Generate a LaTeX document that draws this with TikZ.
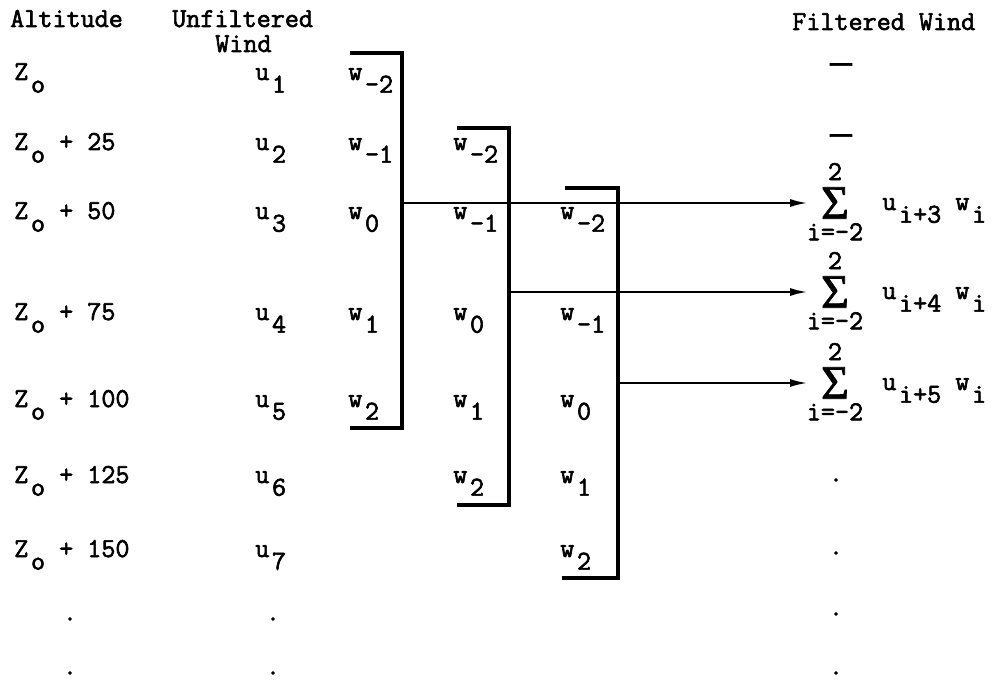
\documentclass[tikz,border=0pt]{standalone}
\usepackage{fontspec}
\setmainfont{Latin Modern Mono}[FakeBold=2.2]
\newfontfamily\sigmafont{Liberation Serif}[FakeBold=1.5]
\usepackage{tikz}
\usetikzlibrary{positioning,arrows.meta}

% lowered (typewriter) subscript
\newcommand\lo[1]{\kern2pt\raisebox{-9.5pt}{#1}}

\begin{document}
\begin{tikzpicture}[x=0.75pt, y=-0.75pt,
    txt/.style={anchor=base west, inner sep=0pt, font=\fontsize{20.5}{22}\selectfont},
    dotmark/.style={inner sep=0pt, font=\fontsize{20.5}{22}\selectfont},
    lim/.style={inner sep=0pt, font=\fontsize{20.5}{22}\selectfont},
    dashmark/.style={inner sep=0pt, font=\sigmafont\fontsize{32}{32}\selectfont},
    sig/.style={inner xsep=10pt, inner ysep=0pt,
                font=\sigmafont\fontsize{36}{36}\selectfont},
    brk/.style={line width=2.3pt},
    flow/.style={-{Latex[length=13pt, width=6pt]}, line width=1.6pt}
]
\useasboundingbox (0,0) rectangle (1002,681);

% --- column headings ---
\node[txt] (alt)   at (10,27)  {Altitude};
\node[txt] (unf)   at (172,27) {Unfiltered};
\node[txt] (unfw)  at (215,52) {Wind};
\node[txt] (filt)  at (792,30) {Filtered Wind};

% --- altitudes ---
\node[txt] (z1) at (14,80)  {Z\lo{o}};
\node[txt] (z2) at (14,150) {Z\lo{o} + 25};
\node[txt] (z3) at (14,219) {Z\lo{o} + 50};
\node[txt] (z4) at (14,320) {Z\lo{o} + 75};
\node[txt] (z5) at (14,407) {Z\lo{o} + 100};
\node[txt] (z6) at (14,483) {Z\lo{o} + 125};
\node[txt] (z7) at (14,557) {Z\lo{o} + 150};
\node[dotmark] (zd1) at (70,619) {.};
\node[dotmark] (zd2) at (70,673) {.};

% --- unfiltered wind ---
\node[txt] (u1) at (255,80)  {u\lo{1}};
\node[txt] (u2) at (255,150) {u\lo{2}};
\node[txt] (u3) at (255,219) {u\lo{3}};
\node[txt] (u4) at (255,320) {u\lo{4}};
\node[txt] (u5) at (255,407) {u\lo{5}};
\node[txt] (u6) at (255,483) {u\lo{6}};
\node[txt] (u7) at (255,557) {u\lo{7}};
\node[dotmark] (ud1) at (273,619) {.};
\node[dotmark] (ud2) at (273,673) {.};

% --- weights, first window ---
\node[txt] (wa1) at (348,80)  {w\lo{-2}};
\node[txt] (wa2) at (348,150) {w\lo{-1}};
\node[txt] (wa3) at (348,219) {w\lo{0}};
\node[txt] (wa4) at (348,320) {w\lo{1}};
\node[txt] (wa5) at (348,407) {w\lo{2}};

% --- second window ---
\node[txt] (wb2) at (453,150) {w\lo{-2}};
\node[txt] (wb3) at (453,219) {w\lo{-1}};
\node[txt] (wb4) at (453,320) {w\lo{0}};
\node[txt] (wb5) at (453,407) {w\lo{1}};
\node[txt] (wb6) at (453,483) {w\lo{2}};

% --- third window ---
\node[txt] (wc3) at (560,219) {w\lo{-2}};
\node[txt] (wc4) at (560,320) {w\lo{-1}};
\node[txt] (wc5) at (560,407) {w\lo{0}};
\node[txt] (wc6) at (560,483) {w\lo{1}};
\node[txt] (wc7) at (560,557) {w\lo{2}};

% --- brackets round each window ---
\draw[brk] (350,53)  -| (402,428) -- (350,428);
\draw[brk] (457,128) -| (509,505) -- (457,505);
\draw[brk] (565,188) -| (618,578) -- (562,578);
\coordinate (tap1) at (402,203);
\coordinate (tap2) at (509,292);
\coordinate (tap3) at (618,383);

% --- filtered wind ---
\node[dashmark] (fd1) at (841,69)  {–};
\node[dashmark] (fd2) at (841,140) {–};

\node[sig] (sg1) at (835,203) {Σ};
\node[lim, above=5pt of sg1] (hi1) {2};
\node[lim, below=3pt of sg1] (bt1) {i=-2};
\node[txt] (tm1) at (882,210) {u\lo{i+3} w\lo{i}};

\node[sig] (sg2) at (835,292) {Σ};
\node[lim, above=5pt of sg2] (hi2) {2};
\node[lim, below=3pt of sg2] (bt2) {i=-2};
\node[txt] (tm2) at (882,299) {u\lo{i+4} w\lo{i}};

\node[sig] (sg3) at (835,383) {Σ};
\node[lim, above=5pt of sg3] (hi3) {2};
\node[lim, below=3pt of sg3] (bt3) {i=-2};
\node[txt] (tm3) at (882,390) {u\lo{i+5} w\lo{i}};

\node[dotmark] (fd3) at (836,480) {.};
\node[dotmark] (fd4) at (836,553) {.};
\node[dotmark] (fd5) at (836,614) {.};
\node[dotmark] (fd6) at (836,673) {.};

% --- taps to the sums ---
\draw[flow] (tap1) -- (sg1);
\draw[flow] (tap2) -- (sg2);
\draw[flow] (tap3) -- (sg3);

\end{tikzpicture}
\end{document}
